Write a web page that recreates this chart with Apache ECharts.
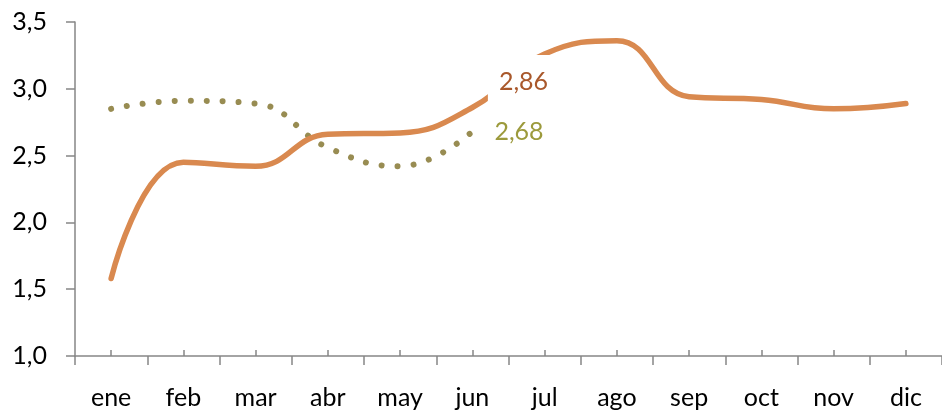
<!DOCTYPE html>
<html>
<head>
<meta charset="utf-8">
<script src="https://cdn.jsdelivr.net/npm/echarts@6/dist/echarts.min.js"></script>
<style>
  html, body { margin: 0; padding: 0; background: #fff; }
  #chart { width: 942px; height: 419px; }
</style>
</head>
<body>
<div id="chart"></div>
<script>
var months = ["ene", "feb", "mar", "abr", "may", "jun", "jul", "ago", "sep", "oct", "nov", "dic"];
var orangeValues = [1.58, 2.45, 2.42, 2.66, 2.67, 2.86, 3.26, 3.36, 2.94, 2.92, 2.85, 2.89];
var oliveValues = [2.85, 2.91, 2.89, 2.56, 2.42, 2.68];
var yTicks = { min: 1.0, max: 3.5, interval: 0.5 };

var FONT = "Lato";
var AXIS_GRAY = "#868686";

function fmt(v) {
    return v.toFixed(1).replace(".", ",");
}
function fmt2(p) {
    return p.value.toFixed(2).replace(".", ",");
}

var chart = echarts.init(document.getElementById("chart"));
chart.setOption({
    animation: false,
    grid: { left: 75, right: -9, top: 22, bottom: 63 },
    xAxis: [{
        type: "category",
        data: months,
        boundaryGap: true,
        axisLine: { lineStyle: { color: AXIS_GRAY, width: 1.5 } },
        axisTick: { show: true, length: 9, alignWithLabel: false, lineStyle: { color: AXIS_GRAY, width: 1.5 } },
        axisLabel: { color: "#000", fontFamily: FONT, fontSize: 25, margin: 29 },
        splitLine: { show: false }
    }, {
        // small ticks at category centres, pointing up
        type: "category",
        data: months,
        position: "bottom",
        boundaryGap: true,
        axisLine: { show: false },
        axisTick: { show: true, inside: true, length: 6, alignWithLabel: true, lineStyle: { color: AXIS_GRAY, width: 1.5 } },
        axisLabel: { show: false },
        splitLine: { show: false }
    }],
    yAxis: {
        type: "value",
        min: yTicks.min,
        max: yTicks.max,
        interval: yTicks.interval,
        axisLine: { show: true, lineStyle: { color: AXIS_GRAY, width: 1.5 } },
        axisTick: { show: true, length: 9, lineStyle: { color: AXIS_GRAY, width: 1.5 } },
        axisLabel: { color: "#000", fontFamily: FONT, fontSize: 25, margin: 28, formatter: fmt },
        splitLine: { show: false }
    },
    series: [{
        name: "olive",
        type: "line",
        data: oliveValues,
        smooth: 0.45,
        symbol: "none",
        z: 2,
        lineStyle: { color: "#988C52", width: 6, type: [0.01, 16], cap: "round" },
        endLabel: {
            show: true,
            formatter: fmt2,
            color: "#9C9A3C",
            fontFamily: FONT,
            fontSize: 25,
            distance: 22
        }
    }, {
        name: "orange",
        type: "line",
        data: orangeValues,
        smooth: 0.45,
        symbol: "none",
        z: 3,
        lineStyle: { color: "#D9894F", width: 5.5, cap: "round" },
        markPoint: {
            symbol: "rect",
            symbolSize: 1,
            itemStyle: { color: "rgba(0,0,0,0)" },
            data: [{ coord: [5, orangeValues[5]], value: orangeValues[5] }],
            label: {
                show: true,
                position: "right",
                distance: 15,
                offset: [0, -26],
                formatter: fmt2,
                color: "#A9582B",
                fontFamily: FONT,
                fontSize: 25,
                backgroundColor: "#fff",
                padding: [14, 8, 14, 11]
            }
        }
    }]
});
</script>
</body>
</html>
